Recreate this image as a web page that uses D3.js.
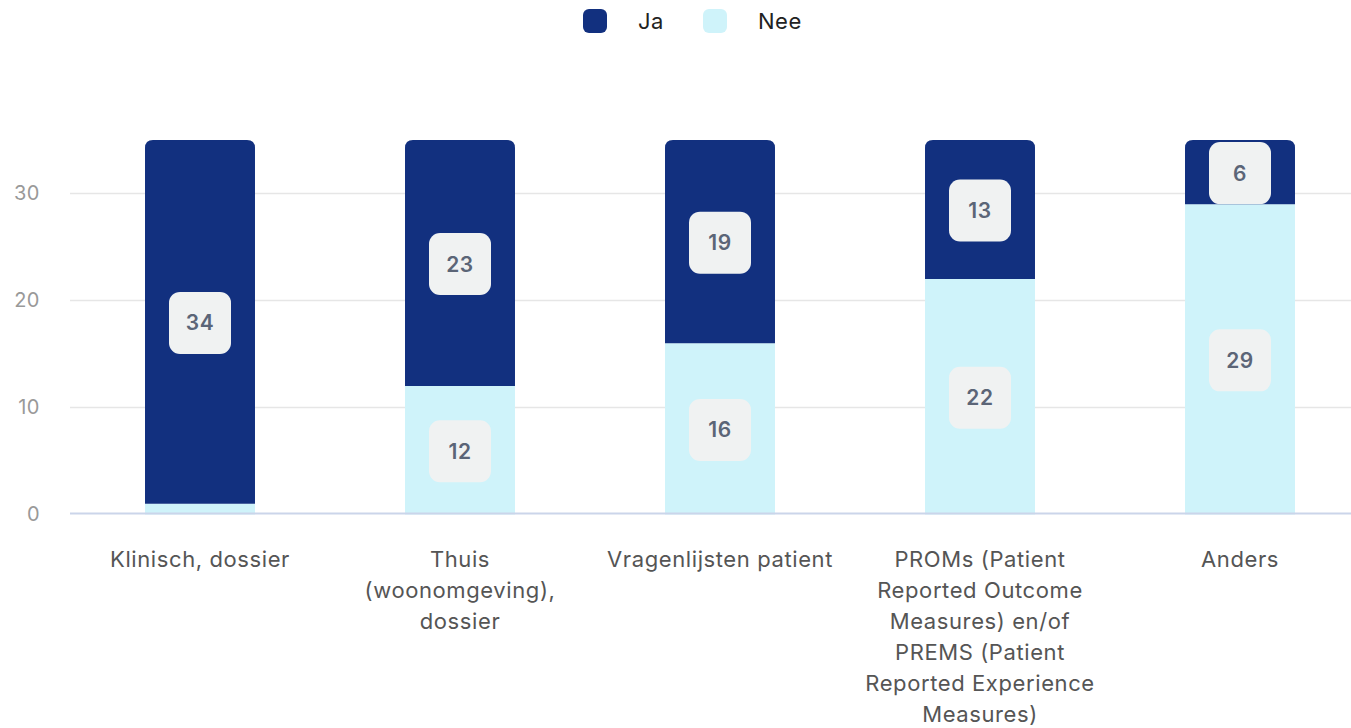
<!DOCTYPE html>
<html>
<head>
<meta charset="utf-8">
<script src="https://cdn.jsdelivr.net/npm/d3@7"></script>
<style>
  body { margin: 0; background: #fff; }
  svg { display: block; font-family: Inter, "Noto Sans", sans-serif; }
</style>
</head>
<body>
<div id="chart"></div>
<script>
const categories = [
    "Klinisch, dossier",
    "Thuis (woonomgeving), dossier",
    "Vragenlijsten patient",
    "PROMs (Patient Reported Outcome Measures) en/of PREMS (Patient Reported Experience Measures)",
    "Anders"
];
const seriesNames = ["Ja", "Nee"];
const jaValues = [34, 23, 19, 13, 6];
const neeValues = [1, 12, 16, 22, 29];
const yTicks = [0, 10, 20, 30];

const colors = {Ja: "#12307f", Nee: "#cff3fa"};

const width = 1351;
const height = 728;
const margin = {top: 140, right: 0, bottom: 213.5, left: 70};

const data = categories.map((c, i) => ({cat: c, Ja: jaValues[i], Nee: neeValues[i]}));

// stacked: Nee at the bottom, Ja on top
const stack = d3.stack().keys(["Nee", "Ja"]);
const series = stack(data);

const svg = d3.select("#chart")
    .append("svg")
    .attr("width", width)
    .attr("height", height);

const x = d3.scaleBand()
    .domain(categories)
    .range([margin.left, 1370])
    .paddingInner(0.577)
    .paddingOuter(0.2885);

const y = d3.scaleLinear()
    .domain([0, 35])
    .range([height - margin.bottom, margin.top]);

// grid lines
svg.append("g")
    .selectAll("line")
    .data(yTicks.filter(d => d > 0))
    .enter()
    .append("line")
    .attr("x1", margin.left)
    .attr("x2", width)
    .attr("y1", d => Math.round(y(d)) - 0.5)
    .attr("y2", d => Math.round(y(d)) - 0.5)
    .attr("stroke", "#e6e6e6")
    .attr("stroke-width", 1.5);

// y axis labels
const yAxis = d3.axisLeft(y).tickValues(yTicks).tickSize(0).tickPadding(0);
const yg = svg.append("g")
    .attr("transform", "translate(40,0)")
    .call(yAxis);
yg.select(".domain").remove();
yg.selectAll("text")
    .attr("fill", "#999")
    .attr("font-size", 20)
    .attr("letter-spacing", 0.5)
    .attr("font-family", "Inter, sans-serif")
    .attr("dy", "0.3em");

// bars
const barR = 8;
function barPath(x0, w, yTop, yBot, roundTop) {
    if (!roundTop) return `M${x0},${yBot}V${yTop}H${x0 + w}V${yBot}Z`;
    const r = Math.min(barR, (yBot - yTop));
    return `M${x0},${yBot}V${yTop + r}Q${x0},${yTop} ${x0 + r},${yTop}H${x0 + w - r}Q${x0 + w},${yTop} ${x0 + w},${yTop + r}V${yBot}Z`;
}

series.forEach((s, si) => {
    svg.append("g")
        .selectAll("path")
        .data(s)
        .enter()
        .append("path")
        .attr("d", d => barPath(x(d.data.cat), x.bandwidth(), y(d[1]), y(d[0]), si === series.length - 1))
        .attr("fill", colors[s.key]);
});

// x axis line
svg.append("line")
    .attr("x1", margin.left)
    .attr("x2", width)
    .attr("y1", 513.5)
    .attr("y2", 513.5)
    .attr("stroke", "#cbd5ea")
    .attr("stroke-width", 2);

// value labels
series.forEach(s => {
    const g = svg.append("g")
        .selectAll("g")
        .data(s.filter(d => d[1] - d[0] >= 3))
        .enter()
        .append("g")
        .attr("transform", d => `translate(${x(d.data.cat) + x.bandwidth() / 2},${(y(d[0]) + y(d[1])) / 2 + 1})`);
    g.append("rect")
        .attr("x", -31)
        .attr("y", -31)
        .attr("width", 62)
        .attr("height", 62)
        .attr("rx", 11)
        .attr("fill", "#f0f2f2");
    g.append("text")
        .attr("text-anchor", "middle")
        .attr("dy", "0.36em")
        .attr("font-size", 21)
        .attr("font-weight", 600)
        .attr("letter-spacing", 0.6)
        .attr("fill", "#5b6577")
        .text(d => d[1] - d[0]);
});

// category labels, wrapped
function wrap(textSel, maxW) {
    textSel.each(function() {
        const t = d3.select(this);
        const words = t.text().split(/\s+/);
        t.text(null);
        let line = [];
        let tspan = t.append("tspan").attr("x", 0).attr("dy", 0);
        words.forEach(w => {
            line.push(w);
            tspan.text(line.join(" "));
            if (tspan.node().getComputedTextLength() > maxW && line.length > 1) {
                line.pop();
                tspan.text(line.join(" "));
                line = [w];
                tspan = t.append("tspan").attr("x", 0).attr("dy", 31).text(w);
            }
        });
    });
}

svg.append("g")
    .selectAll("text")
    .data(categories)
    .enter()
    .append("text")
    .attr("transform", d => `translate(${x(d) + x.bandwidth() / 2},567)`)
    .attr("text-anchor", "middle")
    .attr("font-size", 22)
    .attr("letter-spacing", 0.6)
    .attr("fill", "#555")
    .text(d => d)
    .call(wrap, 240);

// legend
const legend = svg.append("g")
    .selectAll("g")
    .data(seriesNames)
    .enter()
    .append("g")
    .attr("transform", (d, i) => `translate(${583 + i * 120},9)`);
legend.append("rect")
    .attr("width", 24)
    .attr("height", 24)
    .attr("rx", 6)
    .attr("fill", d => colors[d]);
legend.append("text")
    .attr("x", 55)
    .attr("y", 12)
    .attr("dy", "0.36em")
    .attr("font-size", 22)
    .attr("letter-spacing", 0.5)
    .attr("fill", "#222")
    .text(d => d);
</script>
</body>
</html>
